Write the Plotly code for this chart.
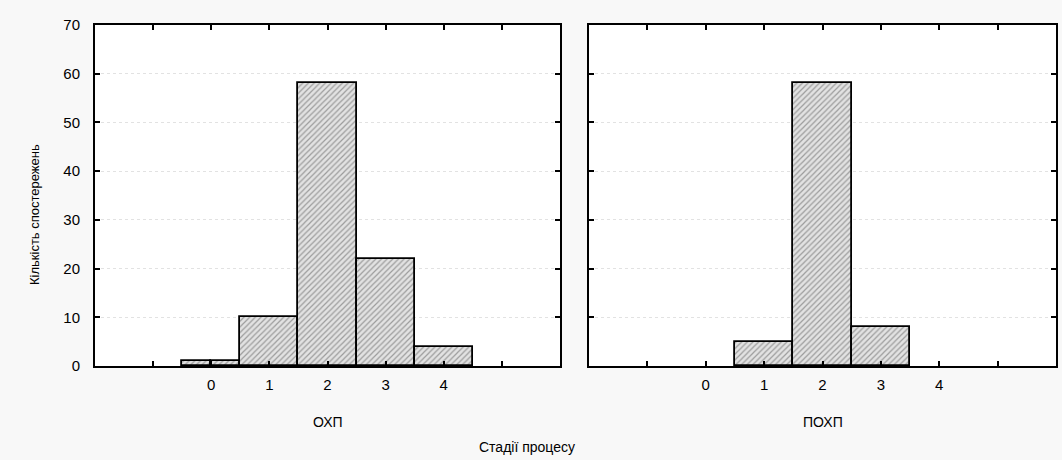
import plotly.graph_objects as go

# Data (histogram bins: left edge, right edge, count)
ohp_bin_left = [-0.5, 0.0, 0.5, 1.5, 2.5, 3.5]
ohp_bin_right = [0.0, 0.5, 1.5, 2.5, 3.5, 4.5]
ohp_counts = [1, 1, 10, 58, 22, 4]

pohp_bin_left = [0.5, 1.5, 2.5]
pohp_bin_right = [1.5, 2.5, 3.5]
pohp_counts = [5, 58, 8]

x_tick_vals = [-1, 0, 1, 2, 3, 4, 5]
x_tick_text = ["", "0", "1", "2", "3", "4", ""]
y_tick_vals = [0, 10, 20, 30, 40, 50, 60, 70]

panel_titles = ["ОХП", "ПОХП"]
x_title = "Стадії процесу"
y_title = "Кількість спостережень"

FONT = "Liberation Sans, Arial, sans-serif"

def bar_trace(lefts, rights, counts, xa, ya):
    centers = [(l + r) / 2 for l, r in zip(lefts, rights)]
    widths = [r - l for l, r in zip(lefts, rights)]
    return go.Bar(
        x=centers, y=counts, width=widths, xaxis=xa, yaxis=ya,
        marker=dict(
            color="#d4d4d4",
            line=dict(color="#000000", width=1.8),
            pattern=dict(shape="/", fgcolor="#555555", bgcolor="#e2e2e2",
                         size=4, solidity=0.3),
        ),
        showlegend=False, hoverinfo="x+y",
    )

fig = go.Figure()
fig.add_trace(bar_trace(ohp_bin_left, ohp_bin_right, ohp_counts, "x", "y"))
fig.add_trace(bar_trace(pohp_bin_left, pohp_bin_right, pohp_counts, "x2", "y2"))

W, H = 1062, 460
d1 = [95 / W, 560 / W]
d2 = [589 / W, 1056 / W]

xcommon = dict(range=[-2, 6], tickvals=x_tick_vals, ticktext=x_tick_text,
               ticks="inside", ticklen=5, tickwidth=2, tickcolor="#000",
               showline=True, linecolor="#000", linewidth=2, mirror="allticks",
               showgrid=False, zeroline=False, ticklabelstandoff=4,
               tickfont=dict(family=FONT, size=15, color="#000"))
ycommon = dict(range=[0, 70], tickvals=y_tick_vals,
               ticks="inside", ticklen=5, tickwidth=2, tickcolor="#000",
               showline=True, linecolor="#000", linewidth=2, mirror="allticks",
               showgrid=True, gridcolor="#e2e2e2", griddash="dot", gridwidth=1,
               zeroline=False, ticklabelstandoff=10,
               tickfont=dict(family=FONT, size=15, color="#000"))

fig.update_layout(
    width=W, height=H,
    margin=dict(l=0, r=0, t=25, b=94),
    paper_bgcolor="#f8f8f8", plot_bgcolor="#ffffff",
    bargap=0,
    xaxis=dict(domain=d1, anchor="y", **xcommon),
    yaxis=dict(domain=[0, 1], anchor="x", **ycommon),
    xaxis2=dict(domain=d2, anchor="y2", **xcommon),
    yaxis2=dict(domain=[0, 1], anchor="x2", showticklabels=False, **ycommon),
    font=dict(family=FONT, color="#000"),
    annotations=[
        dict(text=panel_titles[0], x=(d1[0] + d1[1]) / 2, y=422, xref="paper", yref="paper",
             showarrow=False, font=dict(size=14, family=FONT, color="#000")),
        dict(text=panel_titles[1], x=(d2[0] + d2[1]) / 2, y=422, xref="paper", yref="paper",
             showarrow=False, font=dict(size=14, family=FONT, color="#000")),
        dict(text=x_title, x=527 / W, y=447, xref="paper", yref="paper",
             showarrow=False, font=dict(size=14, family=FONT, color="#000")),
        dict(text=y_title, x=35 / W, y=215, xref="paper", yref="paper", textangle=-90,
             showarrow=False, font=dict(size=13, family=FONT, color="#000")),
    ],
)

# convert pixel y of annotations to paper coords
plot_top, plot_bot = 25, 366
for a in fig.layout.annotations:
    py = a.y
    a.y = (plot_bot - py) / (plot_bot - plot_top)
    a.yanchor = "middle"
    a.xanchor = "center"

fig.write_html("out.html")
